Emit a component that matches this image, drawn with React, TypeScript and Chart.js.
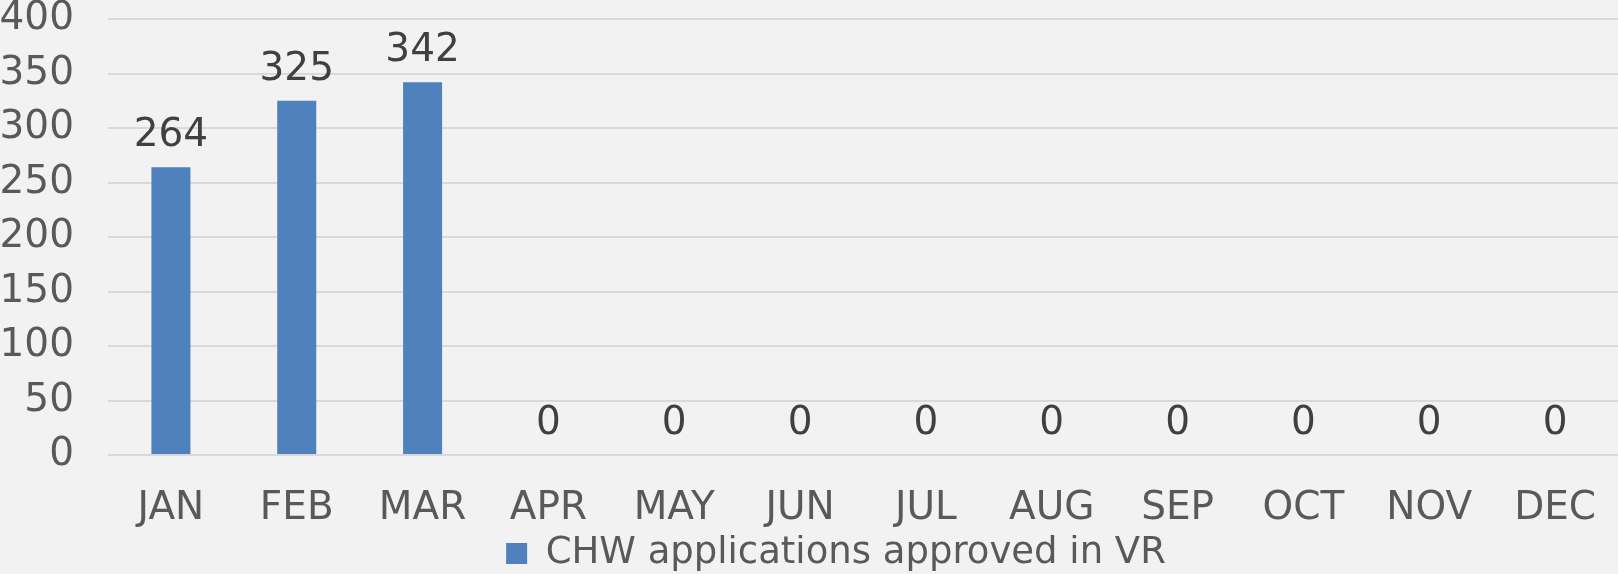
import React, { useEffect, useRef } from "react";
import { Chart, registerables } from "chart.js";

Chart.register(...registerables);

const categories = ["JAN", "FEB", "MAR", "APR", "MAY", "JUN", "JUL", "AUG", "SEP", "OCT", "NOV", "DEC"];
const approved = [264, 325, 342, 0, 0, 0, 0, 0, 0, 0, 0, 0];
const seriesLabel = "CHW applications approved in VR";
const yTicks = [0, 50, 100, 150, 200, 250, 300, 350, 400];

const FONT = "'DejaVu Sans', Verdana, sans-serif";
const FS = 39;
const LEGEND_FS = 37;

const valueLabels = {
  id: "valueLabels",
  afterDatasetsDraw(chart: any) {
    const ctx = chart.ctx;
    const meta = chart.getDatasetMeta(0);
    ctx.save();
    ctx.font = `${FS}px ${FONT}`;
    ctx.fillStyle = "#404040";
    ctx.textAlign = "center";
    ctx.textBaseline = "middle";
    meta.data.forEach((bar: any, i: number) => {
      const v = chart.data.datasets[0].data[i];
      ctx.fillText(String(v), bar.x, bar.y - 31);
    });
    ctx.restore();
  },
};

const bgPlugin = {
  id: "bg",
  beforeDraw(chart: any) {
    const ctx = chart.ctx;
    ctx.save();
    ctx.fillStyle = "#F2F2F2";
    ctx.fillRect(0, 0, chart.width, chart.height);
    ctx.restore();
  },
};

// nudge the legend block as in the reference
const legendShift = {
  id: "legendShift",
  afterLayout(chart: any) {
    const lg = chart.legend;
    if (lg) {
      lg.left += 27;
      lg.right += 27;
      lg.top += 8;
      lg.bottom += 8;
    }
  },
};

export default function App() {
  const ref = useRef<HTMLCanvasElement>(null);
  useEffect(() => {
    document.body.style.margin = "0";
    document.body.style.background = "#F2F2F2";
    const chart = new Chart(ref.current!, {
      type: "bar",
      data: {
        labels: categories,
        datasets: [
          {
            label: seriesLabel,
            data: approved,
            backgroundColor: "#4F81BD",
            borderWidth: 0,
            barPercentage: 0.31,
            categoryPercentage: 1,
          },
        ],
      },
      options: {
        animation: false,
        responsive: false,
        layout: { padding: { top: 19, left: 0, right: 0, bottom: 0 } },
        plugins: {
          tooltip: { enabled: false },
          legend: {
            position: "bottom",
            labels: {
              font: { size: LEGEND_FS, family: FONT, lineHeight: 1 },
              color: "#595959",
              boxWidth: 21,
              boxHeight: 21,
              padding: 0,
            },
          },
        },
        scales: {
          x: {
            grid: { display: false, drawTicks: false },
            border: { display: false },
            ticks: {
              font: { size: FS, family: FONT, lineHeight: 1.2 },
              color: "#595959",
              padding: 30,
              maxRotation: 0,
              autoSkip: false,
            },
            afterFit: (s: any) => {
              s.height = 72;
              s.paddingLeft = 0;
              s.paddingRight = 0;
            },
          },
          y: {
            min: 0,
            max: 400,
            afterBuildTicks: (s: any) => {
              s.ticks = yTicks.map((v) => ({ value: v }));
            },
            grid: { color: "#D9D9D9", lineWidth: 2, drawTicks: false },
            border: { display: false },
            ticks: {
              font: { size: FS, family: FONT, lineHeight: 1 },
              color: "#595959",
              padding: 34,
            },
            afterFit: (s: any) => {
              s.width = 108;
              s.paddingTop = 0;
              s.paddingBottom = 0;
            },
          },
        },
      },
      plugins: [bgPlugin, valueLabels, legendShift],
    });
    return () => chart.destroy();
  }, []);
  return (
    <div style={{ width: 1618, height: 574, background: "#F2F2F2" }}>
      <canvas ref={ref} width={1618} height={574} style={{ display: "block" }} />
    </div>
  );
}
